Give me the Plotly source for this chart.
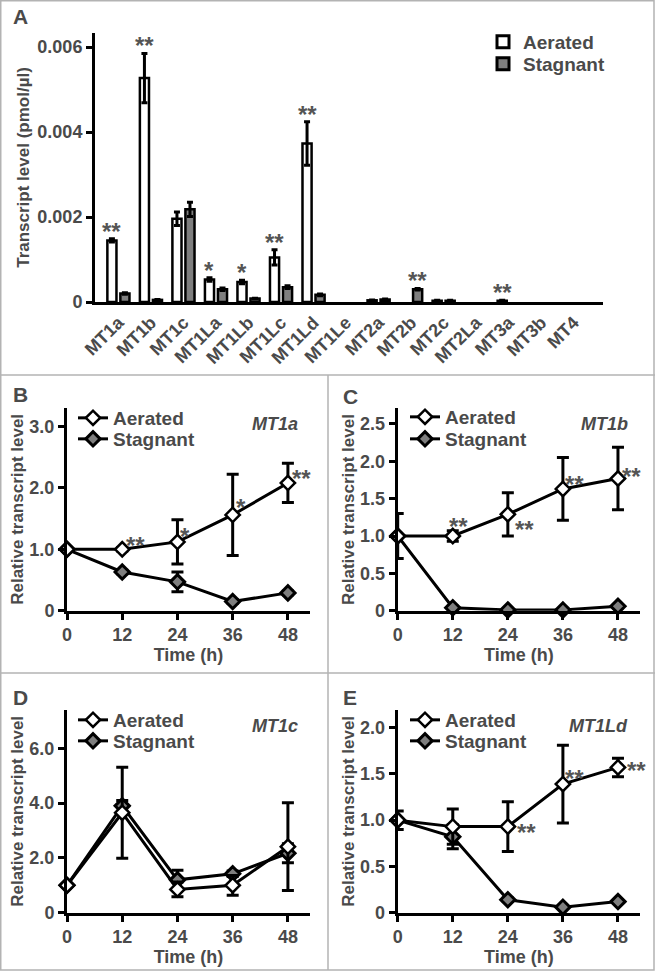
import plotly.graph_objects as go

W, H = 655, 971
TXT = "#4a4a4a"
FONT = "Liberation Sans, Arial, sans-serif"

# ---- panel A data (pmol/ul)
genes = ["MT1a", "MT1b", "MT1c", "MT1La", "MT1Lb", "MT1Lc", "MT1Ld", "MT1Le",
         "MT2a", "MT2b", "MT2c", "MT2La", "MT3a", "MT3b", "MT4"]
aer_level = [0.00145, 0.00527, 0.00196, 0.00053, 0.00047, 0.00105, 0.00373, 0,
             0.00004, 0, 0.00003, 0, 0.00003, 0, 0]
aer_err = [0.00004, 0.00058, 0.00016, 0.00004, 0.00004, 0.00018, 0.00051, 0,
           0.00001, 0, 0.00001, 0, 0.00001, 0, 0]
stag_level = [0.0002, 0.00005, 0.00218, 0.0003, 0.00008, 0.00035, 0.00017, 0,
              0.00006, 0.0003, 0.00003, 0, 0, 0, 0]
stag_err = [0.00002, 0.00001, 0.00017, 0.00003, 0.00001, 0.00003, 0.00002, 0,
            0.00001, 0.00002, 0.00001, 0, 0, 0, 0]
aer_sig = ["**", "**", "", "*", "*", "**", "**", "", "", "", "", "", "**", "", ""]
stag_sig = ["", "", "", "", "", "", "", "", "", "**", "", "", "", "", ""]

# ---- panels B-E (relative level vs time)
time_h = [0, 12, 24, 36, 48]
time_ticks = ["0", "12", "24", "36", "48"]

mt1a_aer = [1.0, 1.0, 1.12, 1.56, 2.08]
mt1a_aer_err = [0, 0.03, 0.36, 0.66, 0.32]
mt1a_stag = [1.0, 0.63, 0.47, 0.15, 0.29]
mt1a_stag_err = [0, 0.03, 0.16, 0.03, 0.03]
mt1a_sig = ["", "**", "*", "*", "**"]

mt1b_aer = [1.0, 1.0, 1.29, 1.63, 1.77]
mt1b_aer_err = [0.3, 0.07, 0.29, 0.42, 0.42]
mt1b_stag = [1.0, 0.04, 0.01, 0.01, 0.06]
mt1b_stag_err = [0, 0.02, 0.01, 0.01, 0.02]
mt1b_sig = ["", "**", "**", "**", "**"]

mt1c_aer = [1.0, 3.65, 0.85, 1.0, 2.41]
mt1c_aer_err = [0, 1.66, 0.27, 0.36, 1.6]
mt1c_stag = [1.0, 3.9, 1.2, 1.42, 2.17]
mt1c_stag_err = [0, 0.2, 0.35, 0.1, 0.35]
mt1c_sig = ["", "", "", "", ""]

mt1ld_aer = [1.0, 0.93, 0.93, 1.39, 1.57]
mt1ld_aer_err = [0.1, 0.19, 0.27, 0.42, 0.1]
mt1ld_stag = [1.0, 0.82, 0.14, 0.06, 0.12]
mt1ld_stag_err = [0, 0.13, 0.02, 0.01, 0.02]
mt1ld_sig = ["", "", "**", "**", "**"]


def px(x):
    return x / W


def py(y):
    return 1 - y / H


def nz(vals):
    # zero-height bars are not drawn in the original
    return [v if v else None for v in vals]


def bfont(size, color=TXT):
    return dict(family=FONT, size=size, color=color, weight="bold")


fig = go.Figure()
legends = {}


def legend_at(x_text, y_center, size=19):
    # one legend box per entry so the rows sit where the original has them
    key = "legend" if not legends else f"legend{len(legends) + 1}"
    legends[key] = dict(x=px(x_text - 40), y=py(y_center - 20), xanchor="left", yanchor="top",
                        bgcolor="rgba(0,0,0,0)", font=bfont(size))
    return key


# ---------------- panel A
fig.add_trace(go.Bar(x=genes, y=nz(aer_level), name="Aerated", showlegend=False,
                     marker=dict(color="white", line=dict(color="black", width=2.5)),
                     error_y=dict(type="data", array=aer_err, color="black", thickness=3, width=3)))
fig.add_trace(go.Bar(x=genes, y=nz(stag_level), name="Stagnant", showlegend=False,
                     marker=dict(color="#7f7f7f", line=dict(color="black", width=2.5)),
                     error_y=dict(type="data", array=stag_err, color="black", thickness=3, width=3)))
# legend keys for the bars (bigger boxes than plotly's bar swatch)
for name, col, yc in [("Aerated", "white", 43), ("Stagnant", "#7f7f7f", 65)]:
    fig.add_trace(go.Scatter(x=[None], y=[None], name=name, mode="markers",
                             legend=legend_at(523, yc),
                             marker=dict(symbol="square", size=12, color=col,
                                         line=dict(color="black", width=3))))

annots = []
star_font = bfont(24, "#555555")
for g, v, e, s in zip(genes, aer_level, aer_err, aer_sig):
    if s:
        annots.append(dict(x=g, y=v + e, xref="x", yref="y", text=s, showarrow=False,
                           xshift=-6.5, yanchor="bottom", yshift=-8, font=star_font))
for g, v, e, s in zip(genes, stag_level, stag_err, stag_sig):
    if s:
        annots.append(dict(x=g, y=v + e, xref="x", yref="y", text=s, showarrow=False,
                           xshift=6.5, yanchor="bottom", yshift=-8, font=star_font))

axis_common = dict(showline=True, linecolor="black", linewidth=3, ticks="outside",
                   ticklen=6, tickwidth=3, tickcolor="black", showgrid=False,
                   zeroline=False, automargin=False, tickfont=bfont(18))

fig.update_layout(
    xaxis=dict(domain=[px(95), px(603)], anchor="y", type="category",
               range=[-0.72, 14.9], showline=True, linecolor="black", linewidth=3,
               ticks="", showgrid=False, tickangle=-45, automargin=False,
               tickfont=bfont(18)),
    yaxis=dict(domain=[py(302), py(33)], anchor="x", range=[0, 0.00633],
               tickvals=[0, 0.002, 0.004, 0.006], ticktext=["0", "0.002", "0.004", "0.006"],
               title=dict(text="Transcript level (pmol/µl)", standoff=4, font=bfont(17)),
               **axis_common),
    barmode="group", bargap=0.2, bargroupgap=0.3,
)

# ---------------- panels B-E
panels = [
    ("B", "MT1a", mt1a_aer, mt1a_aer_err, mt1a_stag, mt1a_stag_err, mt1a_sig,
     [0, 3.3], [0, 1, 2, 3], ["0", "1.0", "2.0", "3.0"]),
    ("C", "MT1b", mt1b_aer, mt1b_aer_err, mt1b_stag, mt1b_stag_err, mt1b_sig,
     [0, 2.71], [0, 0.5, 1, 1.5, 2, 2.5], ["0", "0.5", "1.0", "1.5", "2.0", "2.5"]),
    ("D", "MT1c", mt1c_aer, mt1c_aer_err, mt1c_stag, mt1c_stag_err, mt1c_sig,
     [0, 7.4], [0, 2, 4, 6], ["0", "2.0", "4.0", "6.0"]),
    ("E", "MT1Ld", mt1ld_aer, mt1ld_aer_err, mt1ld_stag, mt1ld_stag_err, mt1ld_sig,
     [0, 2.19], [0, 0.5, 1, 1.5, 2], ["0", "0.5", "1.0", "1.5", "2.0"]),
]
# pixel boxes: (left, right, bottom, top)
boxes = [(67, 310, 610.7, 408), (397.7, 640, 610.7, 408.3),
         (67, 310, 912.7, 710), (397.7, 640, 912.7, 710)]
# legend text start x, aerated row y, stagnant row y
leg_pos = [(113, 419, 440), (445, 418, 440), (113, 721, 742), (445, 721, 742)]
# star offsets (px right, px up) per panel
star_off = {
    "B": [(0, 0), (13, 10), (8, 11), (8, 13), (14, 10)],
    "C": [(0, 0), (6, 16), (17, -9), (12, 10), (14, 8)],
    "D": [(0, 0)] * 5,
    "E": [(0, 0), (0, 0), (19, 0), (12, 12), (19, 3)],
}
panel_letters = [("A", 20, 17), ("B", 20, 394), ("C", 350, 396), ("D", 20, 697), ("E", 350, 697)]

for i, (letter, gene, a, ae, s, se, sig, yr, tv, tt) in enumerate(panels):
    n = i + 2
    xa, ya = f"x{n}", f"y{n}"
    l, r, b, t = boxes[i]
    lx, ly_a, ly_s = leg_pos[i]
    fig.add_trace(go.Scatter(x=time_h, y=s, name="Stagnant", xaxis=xa, yaxis=ya,
                             legend=legend_at(lx, ly_s),
                             mode="lines+markers", cliponaxis=False,
                             line=dict(color="black", width=3),
                             marker=dict(symbol="diamond", size=11, color="#7f7f7f",
                                         line=dict(color="black", width=3)),
                             error_y=dict(type="data", array=se, color="black",
                                          thickness=3, width=6)))
    fig.add_trace(go.Scatter(x=time_h, y=a, name="Aerated", xaxis=xa, yaxis=ya,
                             legend=legend_at(lx, ly_a),
                             mode="lines+markers", cliponaxis=False,
                             line=dict(color="black", width=3),
                             marker=dict(symbol="diamond", size=11, color="white",
                                         line=dict(color="black", width=2.5)),
                             error_y=dict(type="data", array=ae, color="black",
                                          thickness=3, width=6)))
    fig.update_layout({
        f"xaxis{n}": dict(domain=[px(l), px(r)], anchor=ya, range=[0, 52.8],
                          tickvals=time_h, ticktext=time_ticks,
                          title=dict(text="Time (h)", standoff=1, font=bfont(18)),
                          **axis_common),
        f"yaxis{n}": dict(domain=[py(b), py(t)], anchor=xa, range=yr,
                          tickvals=tv, ticktext=tt,
                          title=dict(text="Relative transcript level", standoff=2,
                                     font=bfont(17)),
                          **axis_common),
    })
    for tx, v, st, (dx, dy) in zip(time_h, a, sig, star_off[letter]):
        if st:
            annots.append(dict(x=tx, y=v, xref=xa, yref=ya, text=st, showarrow=False,
                               xshift=dx, yshift=dy - 6, font=star_font))
    annots.append(dict(x=px(r - 10), y=py(t + 16), xref="paper", yref="paper",
                       text=f"<i>{gene}</i>", showarrow=False, xanchor="right",
                       yanchor="middle", font=bfont(18)))

for letter, lx, ly in panel_letters:
    annots.append(dict(x=px(lx), y=py(ly), xref="paper", yref="paper", text=letter,
                       showarrow=False, xanchor="center", yanchor="middle", font=bfont(21)))

# panel frames
line_c = dict(color="#b3b3b3", width=1.5)
shapes = [
    dict(type="rect", xref="paper", yref="paper", x0=px(0.75), x1=px(654), y0=py(970), y1=py(0.75), line=line_c),
    dict(type="line", xref="paper", yref="paper", x0=0, x1=1, y0=py(375), y1=py(375), line=line_c),
    dict(type="line", xref="paper", yref="paper", x0=0, x1=1, y0=py(673), y1=py(673), line=line_c),
    dict(type="line", xref="paper", yref="paper", x0=px(328), x1=px(328), y0=py(970), y1=py(375), line=line_c),
]

fig.update_layout(
    width=W, height=H, margin=dict(l=0, r=0, t=0, b=0),
    paper_bgcolor="white", plot_bgcolor="rgba(0,0,0,0)",
    font=dict(family=FONT, color=TXT),
    annotations=annots, shapes=shapes,
    **legends,
)

fig.write_html("out.html", config={"displayModeBar": False},
               post_script="document.body.style.margin='0';")
